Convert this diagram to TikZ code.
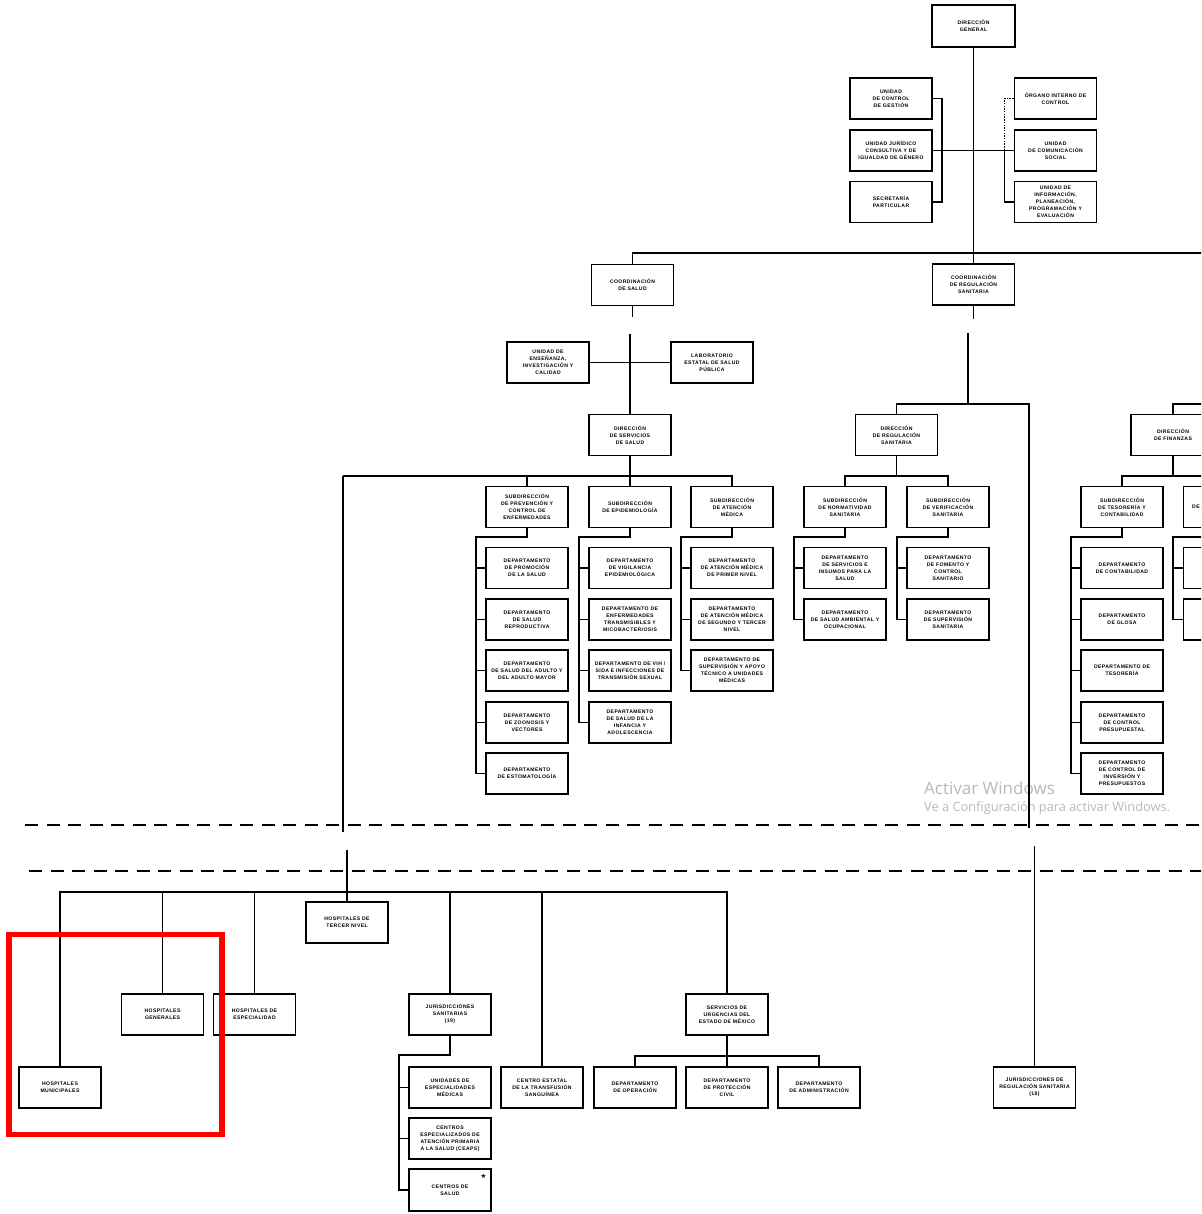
\documentclass[tikz,border=0pt]{standalone}
\usepackage{fontspec}
\usepackage{xcolor}
\usepackage{tikz}
\usetikzlibrary{calc}
\newfontfamily\orgfont{Liberation Sans}[LetterSpace=8]
\newfontfamily\winfont{Open Sans}
\newfontfamily\symfont{DejaVu Sans}
\definecolor{FrameRed}{HTML}{FF0000}
\definecolor{WinGray}{HTML}{B9B9B9}

\begin{document}
\begin{tikzpicture}[
  x=1pt,y=-1pt,
  orgbox/.style={draw=black,line width=1.9pt,fill=white,minimum width=82pt,
    minimum height=41pt,inner sep=1pt,align=center,
    font=\orgfont\bfseries\fontsize{5.1}{7}\selectfont},
  orgline/.style={draw=black,line width=1.9pt},
  dotline/.style={draw=black,line width=1.7pt,dash pattern=on 1.4pt off 1.3pt},
  sepline/.style={draw=black,line width=1.9pt,dash pattern=on 13pt off 8.5pt},
  winmark/.style={anchor=base west,inner sep=0pt,text=WinGray}
]
  \useasboundingbox (0,0) rectangle (1201,1214);
  \fill[white] (0,0) rectangle (1201,1214);
  \clip (0,0) rectangle (1201,1214);

  % dirección general y unidades staff
  \node[orgbox,minimum width=83pt,minimum height=42pt] (dg) at (973.5,26)
    {DIRECCIÓN\\GENERAL};
  \node[orgbox] (ucg) at (891,98.5) {UNIDAD\\DE CONTROL\\DE GESTIÓN};
  \node[orgbox] (ujc) at (891,150.5)
    {UNIDAD JURÍDICO\\CONSULTIVA Y DE\\IGUALDAD DE GÉNERO};
  \node[orgbox] (spart) at (891,202) {SECRETARÍA\\PARTICULAR};
  \node[orgbox] (oic) at (1055.5,98.5) {ÓRGANO INTERNO DE\\CONTROL};
  \node[orgbox] (ucs) at (1055.5,150.5) {UNIDAD\\DE COMUNICACIÓN\\SOCIAL};
  \node[orgbox] (uippe) at (1055.5,202)
    {UNIDAD DE\\INFORMACIÓN,\\PLANEACIÓN,\\PROGRAMACIÓN Y\\EVALUACIÓN};

  % coordinaciones
  \node[orgbox] (csal) at (632.5,285) {COORDINACIÓN\\DE SALUD};
  \node[orgbox] (creg) at (973.5,284.5)
    {COORDINACIÓN\\DE REGULACIÓN\\SANITARIA};
  \node[orgbox] (ueic) at (548,362.5)
    {UNIDAD DE\\ENSEÑANZA,\\INVESTIGACIÓN Y\\CALIDAD};
  \node[orgbox] (lesp) at (712,362.5)
    {LABORATORIO\\ESTATAL DE SALUD\\PÚBLICA};

  % direcciones
  \node[orgbox] (dss) at (630,435) {DIRECCIÓN\\DE SERVICIOS\\DE SALUD};
  \node[orgbox] (drs) at (896.5,435) {DIRECCIÓN\\DE REGULACIÓN\\SANITARIA};
  \node[orgbox,minimum width=84pt] (dfin) at (1173,435)
    {DIRECCIÓN\\DE FINANZAS};

  % subdirecciones
  \node[orgbox] (spce) at (527,507)
    {SUBDIRECCIÓN\\DE PREVENCIÓN Y\\CONTROL DE\\ENFERMEDADES};
  \node[orgbox] (sepi) at (630,507) {SUBDIRECCIÓN\\DE EPIDEMIOLOGÍA};
  \node[orgbox] (satm) at (732,507) {SUBDIRECCIÓN\\DE ATENCIÓN\\MÉDICA};
  \node[orgbox] (snor) at (845,507)
    {SUBDIRECCIÓN\\DE NORMATIVIDAD\\SANITARIA};
  \node[orgbox] (sver) at (948,507)
    {SUBDIRECCIÓN\\DE VERIFICACIÓN\\SANITARIA};
  \node[orgbox] (stes) at (1122,507)
    {SUBDIRECCIÓN\\DE TESORERÍA Y\\CONTABILIDAD};
  \node[orgbox] (sadm) at (1224.5,507)
    {SUBDIRECCIÓN\\DE ADMINISTRACIÓN Y\\LIQUIDACIÓN};

  % departamentos de prevención y control
  \node[orgbox] (dprom) at (527,568) {DEPARTAMENTO\\DE PROMOCIÓN\\DE LA SALUD};
  \node[orgbox] (dsrep) at (527,619.5) {DEPARTAMENTO\\DE SALUD\\REPRODUCTIVA};
  \node[orgbox] (dsam) at (527,670.5)
    {DEPARTAMENTO\\DE SALUD DEL ADULTO Y\\DEL ADULTO MAYOR};
  \node[orgbox] (dzoo) at (527,722.5) {DEPARTAMENTO\\DE ZOONOSIS Y\\VECTORES};
  \node[orgbox] (desto) at (527,773.5) {DEPARTAMENTO\\DE ESTOMATOLOGÍA};

  % departamentos de epidemiología
  \node[orgbox] (dvig) at (630,568)
    {DEPARTAMENTO\\DE VIGILANCIA\\EPIDEMIOLÓGICA};
  \node[orgbox] (detm) at (630,619.5)
    {DEPARTAMENTO DE\\ENFERMEDADES\\TRANSMISIBLES Y\\MICOBACTERIOSIS};
  \node[orgbox] (dvih) at (630,670.5)
    {DEPARTAMENTO DE VIH /\\SIDA E INFECCIONES DE\\TRANSMISIÓN SEXUAL};
  \node[orgbox] (dsia) at (630,722.5)
    {DEPARTAMENTO\\DE SALUD DE LA\\INFANCIA Y\\ADOLESCENCIA};

  % departamentos de atención médica
  \node[orgbox] (dpn) at (732,568)
    {DEPARTAMENTO\\DE ATENCIÓN MÉDICA\\DE PRIMER NIVEL};
  \node[orgbox] (dstn) at (732,619.5)
    {DEPARTAMENTO\\DE ATENCIÓN MÉDICA\\DE SEGUNDO Y TERCER\\NIVEL};
  \node[orgbox] (dsat) at (732,670.5)
    {DEPARTAMENTO DE\\SUPERVISIÓN Y APOYO\\TÉCNICO A UNIDADES\\MÉDICAS};

  % departamentos de regulación
  \node[orgbox] (dsis) at (845,568)
    {DEPARTAMENTO\\DE SERVICIOS E\\INSUMOS PARA LA\\SALUD};
  \node[orgbox] (dsao) at (845,619.5)
    {DEPARTAMENTO\\DE SALUD AMBIENTAL Y\\OCUPACIONAL};
  \node[orgbox] (dfcs) at (948,568)
    {DEPARTAMENTO\\DE FOMENTO Y\\CONTROL\\SANITARIO};
  \node[orgbox] (dsup) at (948,619.5)
    {DEPARTAMENTO\\DE SUPERVISIÓN\\SANITARIA};

  % departamentos de finanzas
  \node[orgbox] (dcont) at (1122,568) {DEPARTAMENTO\\DE CONTABILIDAD};
  \node[orgbox] (dglo) at (1122,619.5) {DEPARTAMENTO\\DE GLOSA};
  \node[orgbox] (dteso) at (1122,670.5) {DEPARTAMENTO DE\\TESORERÍA};
  \node[orgbox] (dcpre) at (1122,722.5)
    {DEPARTAMENTO\\DE CONTROL\\PRESUPUESTAL};
  \node[orgbox] (dcinv) at (1122,773.5)
    {DEPARTAMENTO\\DE CONTROL DE\\INVERSIÓN Y\\PRESUPUESTOS};
  \node[orgbox] (dadma) at (1224.5,568) {};
  \node[orgbox] (dadmb) at (1224.5,619.5) {};

  % unidades operativas
  \node[orgbox] (htn) at (347,922.5) {HOSPITALES DE\\TERCER NIVEL};
  \node[orgbox] (hgen) at (162.5,1014.5) {HOSPITALES\\GENERALES};
  \node[orgbox] (hesp) at (254.5,1014.5) {HOSPITALES DE\\ESPECIALIDAD};
  \node[orgbox] (hmun) at (60,1087.5) {HOSPITALES\\MUNICIPALES};
  \node[orgbox] (jsan) at (450,1014.5) {JURISDICCIONES\\SANITARIAS\\(19)};
  \node[orgbox] (ume) at (450,1087.5)
    {UNIDADES DE\\ESPECIALIDADES\\MÉDICAS};
  \node[orgbox] (ceaps) at (450,1138.5)
    {CENTROS\\ESPECIALIZADOS DE\\ATENCIÓN PRIMARIA\\A LA SALUD (CEAPS)};
  \node[orgbox,minimum height=42pt] (cds) at (450,1190) {CENTROS DE\\SALUD};
  \node[inner sep=0pt,font=\symfont\fontsize{6.5}{6.5}\selectfont] (star)
    at (483.5,1176) {★};
  \node[orgbox] (cets) at (542,1087.5)
    {CENTRO ESTATAL\\DE LA TRANSFUSIÓN\\SANGUÍNEA};
  \node[orgbox] (suem) at (727,1014.5)
    {SERVICIOS DE\\URGENCIAS DEL\\ESTADO DE MÉXICO};
  \node[orgbox] (dope) at (635,1087.5) {DEPARTAMENTO\\DE OPERACIÓN};
  \node[orgbox] (dpci) at (727,1087.5)
    {DEPARTAMENTO\\DE PROTECCIÓN\\CIVIL};
  \node[orgbox] (dadmin) at (819,1087.5) {DEPARTAMENTO\\DE ADMINISTRACIÓN};
  \node[orgbox] (jrs) at (1034.5,1087.5)
    {JURISDICCIONES DE\\REGULACIÓN SANITARIA\\(18)};

  % aviso de activación
  \node[winmark,font=\winfont\fontsize{17}{17}\selectfont] (winmain)
    at (924,794) {Activar Windows};
  \node[winmark,font=\winfont\fontsize{12.8}{12.8}\selectfont] (winhint)
    at (924,811.5) {Ve a Configuración para activar Windows.};

  % líneas de mando superiores
  \draw[orgline] (dg.south) -- (creg.north);
  \draw[orgline] (ujc.east) -- (ucs.west);
  \coordinate (leftrail) at (942,98.5);
  \draw[orgline] (ucg.east) -- (leftrail) |- (spart.east);
  \coordinate (rightrail) at (1004.5,150.5);
  \draw[orgline] (rightrail) |- (uippe.west);
  \draw[dotline] (oic.west) -| (rightrail);
  \coordinate (busright) at (1215,253);
  \draw[orgline] (csal.north) |- (busright);

  % coordinación de salud
  \draw[orgline] (csal.south) -- ++(0,11);
  \coordinate (saludgap) at (630,334);
  \draw[orgline] (saludgap) -- (dss.north);
  \draw[orgline] (ueic.east) -- (lesp.west);
  \coordinate (dssbus) at (630,476);
  \coordinate (hostop) at (343,476);
  \draw[orgline] (dss.south) -- (sepi.north);
  \draw[orgline] (hostop) -| (satm.north);
  \draw[orgline] (spce.north) -- (spce.north |- dssbus);
  \draw[orgline] (hostop) -- ++(0,356);

  \coordinate (spcerail) at (476,537);
  \draw[orgline] (spce.south) |- (spcerail) |- (desto.west);
  \draw[orgline] (spcerail |- dprom.west) -- (dprom.west);
  \draw[orgline] (spcerail |- dsrep.west) -- (dsrep.west);
  \draw[orgline] (spcerail |- dsam.west) -- (dsam.west);
  \draw[orgline] (spcerail |- dzoo.west) -- (dzoo.west);

  \coordinate (sepirail) at (579,537);
  \draw[orgline] (sepi.south) |- (sepirail) |- (dsia.west);
  \draw[orgline] (sepirail |- dvig.west) -- (dvig.west);
  \draw[orgline] (sepirail |- detm.west) -- (detm.west);
  \draw[orgline] (sepirail |- dvih.west) -- (dvih.west);

  \coordinate (satmrail) at (681,537);
  \draw[orgline] (satm.south) |- (satmrail) |- (dsat.west);
  \draw[orgline] (satmrail |- dpn.west) -- (dpn.west);
  \draw[orgline] (satmrail |- dstn.west) -- (dstn.west);

  % coordinación de regulación sanitaria
  \draw[orgline] (creg.south) -- ++(0,13);
  \coordinate (reggap) at (968,333);
  \coordinate (regbus) at (968,404);
  \draw[orgline] (reggap) -- (regbus);
  \coordinate (jrsrail) at (1029,404);
  \draw[orgline] (drs.north) |- (jrsrail) -- ++(0,424);
  \coordinate (jrsgap) at (1034.5,846);
  \draw[orgline] (jrsgap) -- (jrs.north);
  \coordinate (drsbus) at (896.5,476);
  \draw[orgline] (drs.south) -- (drsbus);
  \draw[orgline] (snor.north) |- (drsbus) -| (sver.north);

  \coordinate (snorrail) at (794,537);
  \draw[orgline] (snor.south) |- (snorrail) |- (dsao.west);
  \draw[orgline] (snorrail |- dsis.west) -- (dsis.west);
  \coordinate (sverrail) at (897,537);
  \draw[orgline] (sver.south) |- (sverrail) |- (dsup.west);
  \draw[orgline] (sverrail |- dfcs.west) -- (dfcs.west);

  % finanzas
  \coordinate (finright) at (1215,404);
  \draw[orgline] (dfin.north) |- (finright);
  \coordinate (finbus) at (1173,476);
  \draw[orgline] (dfin.south) -- (finbus);
  \draw[orgline] (stes.north) |- (finbus) -| (sadm.north);
  \coordinate (stesrail) at (1071,537);
  \draw[orgline] (stes.south) |- (stesrail) |- (dcinv.west);
  \draw[orgline] (stesrail |- dcont.west) -- (dcont.west);
  \draw[orgline] (stesrail |- dglo.west) -- (dglo.west);
  \draw[orgline] (stesrail |- dteso.west) -- (dteso.west);
  \draw[orgline] (stesrail |- dcpre.west) -- (dcpre.west);
  \coordinate (sadmrail) at (1173,537);
  \draw[orgline] (sadm.south) |- (sadmrail) |- (dadmb.west);
  \draw[orgline] (sadmrail |- dadma.west) -- (dadma.west);

  % cortes del organigrama
  \coordinate (cutatop) at (25,825);
  \coordinate (cutaend) at (1215,825);
  \draw[sepline] (cutatop) -- (cutaend);
  \coordinate (cutbtop) at (29,871);
  \coordinate (cutbend) at (1215,871);
  \draw[sepline] (cutbtop) -- (cutbend);

  % unidades operativas
  \coordinate (hosgap) at (347,850);
  \coordinate (hosbus) at (347,892);
  \draw[orgline] (hosgap) -- (htn.north);
  \draw[orgline] (hmun.north) |- (hosbus) -| (suem.north);
  \draw[orgline] (hgen.north) -- (hgen.north |- hosbus);
  \draw[orgline] (hesp.north) -- (hesp.north |- hosbus);
  \draw[orgline] (jsan.north) -- (jsan.north |- hosbus);
  \draw[orgline] (cets.north) -- (cets.north |- hosbus);

  \coordinate (jsanrail) at (399,1055);
  \draw[orgline] (jsan.south) |- (jsanrail) |- (cds.west);
  \draw[orgline] (jsanrail |- ume.west) -- (ume.west);
  \draw[orgline] (jsanrail |- ceaps.west) -- (ceaps.west);

  \coordinate (suembus) at (727,1056);
  \draw[orgline] (suem.south) -- (dpci.north);
  \draw[orgline] (dope.north) |- (suembus) -| (dadmin.north);

  % recuadro de resalte
  \draw[FrameRed,line width=5.5pt] (9,934.5) rectangle (222,1134.3);
\end{tikzpicture}
\end{document}
